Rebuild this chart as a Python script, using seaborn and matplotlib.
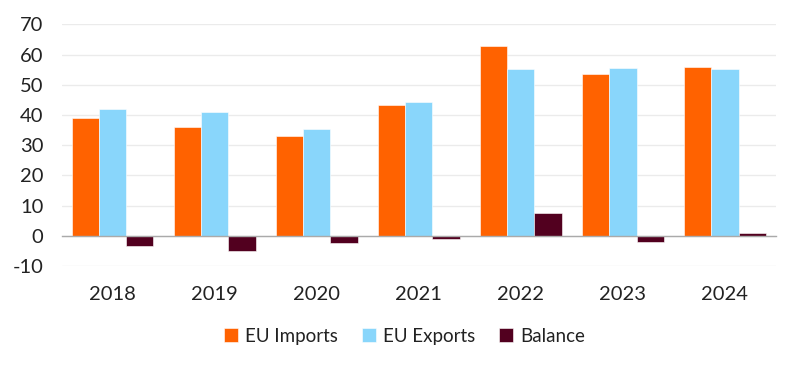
import matplotlib
matplotlib.use("Agg")
import matplotlib.pyplot as plt
import seaborn as sns
import pandas as pd
import numpy as np

years = ["2018", "2019", "2020", "2021", "2022", "2023", "2024"]
eu_imports = [38.9, 36.0, 33.1, 43.3, 62.8, 53.6, 55.9]
eu_exports = [42.1, 41.1, 35.4, 44.4, 55.3, 55.7, 55.1]
balance = [-3.2, -4.9, -2.4, -1.1, 7.5, -2.2, 0.9]
series = ["EU Imports", "EU Exports", "Balance"]
colors = ["#FF6200", "#89D6FB", "#52001F"]
yticks = [-10, 0, 10, 20, 30, 40, 50, 60, 70]

df = pd.DataFrame({
    "year": years * 3,
    "value": eu_imports + eu_exports + balance,
    "series": [series[0]] * 7 + [series[1]] * 7 + [series[2]] * 7,
})

sns.set_theme(style="white")
plt.rcParams["font.family"] = ["Lato", "DejaVu Sans"]

fig = plt.figure(figsize=(8, 3.69), dpi=100)
ax = fig.add_axes([0.077, 0.279, 0.893, 0.655])

sns.barplot(data=df, x="year", y="value", hue="series", palette=colors,
            hue_order=series, order=years, width=0.8, ax=ax,
            edgecolor="white", linewidth=0.4, saturation=1, legend=True)

ax.set_ylim(-10, 70)
ax.set_xlim(-0.5, len(years) - 0.5)
ax.set_yticks(yticks)
ax.set_yticklabels([str(t) for t in yticks], fontsize=14.5, color="#222222")
ax.yaxis.grid(True, color="#EBEBEB", linewidth=1)
ax.set_axisbelow(True)
ax.set_xlabel("")
ax.set_ylabel("")

for s in ["top", "right", "left"]:
    ax.spines[s].set_visible(False)
ax.spines["bottom"].set_position(("data", 0))
ax.spines["bottom"].set_color("#AAAAAA")
ax.spines["bottom"].set_linewidth(1)

ax.tick_params(axis="y", length=0, pad=13)
ax.tick_params(axis="x", which="major", length=0, pad=36, labelsize=14.5, labelcolor="#222222")
ax.set_xticks(np.arange(-0.5, len(years), 1.0), minor=True)
ax.tick_params(axis="x", which="minor", length=6, width=1, color="#AAAAAA", direction="out")

handles, labels = ax.get_legend_handles_labels()
ax.legend(handles, labels, loc="center", bbox_to_anchor=(0.48, -0.29),
          ncol=3, frameon=False, fontsize=13.5, handlelength=0.75, handleheight=0.75,
          handletextpad=0.35, columnspacing=1.3, labelcolor="#222222")

fig.savefig("out.png", dpi=100)
